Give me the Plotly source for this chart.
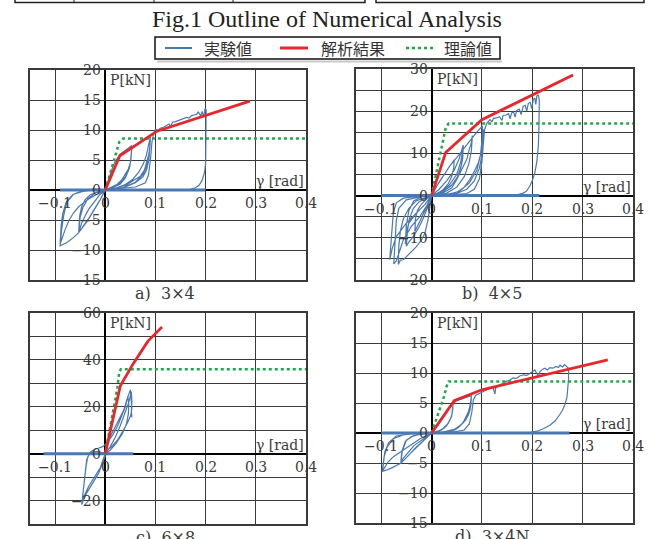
import plotly.graph_objects as go

W, H = 651, 539

# ---------------- data ----------------
x_ticks = [-0.1, 0.0, 0.1, 0.2, 0.3, 0.4]
x_tick_text = ["−0.1", "0", "0.1", "0.2", "0.3", "0.4"]

a_y_ticks = [20, 15, 10, 5, 0, -5, -10, -15]
a_y_text = ["20", "15", "10", "5", "0", "−5", "−10", "−15"]
b_y_ticks = [30, 20, 10, 0, -10, -20]
b_y_text = ["30", "20", "10", "0", "−10", "−20"]
c_y_ticks = [60, 40, 20, 0, -20]
c_y_text = ["60", "40", "20", "0", "−20"]
d_y_ticks = [20, 15, 10, 5, 0, -5, -10, -15]
d_y_text = ["20", "15", "10", "5", "0", "−5", "−10", "−15"]

captions = ["a)  3×4", "b)  4×5", "c)  6×8", "d)  3×4N"]
legend_names = ["実験値", "解析結果", "理論値"]

# experimental hysteresis (gamma [rad], P [kN])
a_exp = [(0, 0), (0.005, 1.3), (0.01, 2.8), (0.015, 3.9), (0.02, 4.8), (0.025, 5.5), (0.03, 6.0), (0.037, 6.4),
         (0.043, 6.8), (0.048, 7.1), (0.053, 7.4), (0.052, 6.0), (0.05, 4.6), (0.046, 3.2), (0.04, 2.0), (0.03, 1.0),
         (0.015, 0.4), (0, 0.1), (-0.005, -0.8), (-0.01, -1.6), (-0.017, -2.6), (-0.023, -3.5), (-0.03, -4.4),
         (-0.037, -5.2), (-0.045, -6.2), (-0.053, -7.1), (-0.052, -5.6), (-0.051, -4.3), (-0.047, -2.8), (-0.04, -1.6),
         (-0.03, -0.8), (-0.015, -0.3), (0, 0), (0.012, 0.4), (0.023, 0.9), (0.033, 1.7), (0.04, 2.6), (0.046, 3.5),
         (0.05, 4.6), (0.052, 5.8), (0.053, 7.1), (0.051, 5.0), (0.048, 3.6), (0.04, 2.2), (0.025, 0.8), (0.01, 0.2),
         (0, 0), (-0.01, -0.7), (-0.023, -2.1), (-0.033, -3.2), (-0.04, -4.3), (-0.047, -5.5), (-0.053, -7.0),
         (-0.05, -4.5), (-0.045, -3.0), (-0.035, -1.5), (-0.02, -0.5), (0, 0), (0.02, 0.3), (0.043, 0.9), (0.06, 1.8),
         (0.07, 2.3), (0.078, 3.3), (0.083, 4.6), (0.087, 6.0), (0.089, 7.3), (0.09, 9.0), (0.089, 7.0), (0.087, 5.0),
         (0.082, 3.3), (0.075, 2.2), (0.06, 1.2), (0.04, 0.5), (0.02, 0.2), (0, 0), (-0.01, -1.6), (-0.023, -3.5),
         (-0.037, -5.3), (-0.053, -7.1), (-0.063, -7.9), (-0.077, -8.8), (-0.09, -9.3), (-0.087, -6.6),
         (-0.083, -4.3), (-0.077, -2.1), (-0.063, -0.7), (-0.043, -0.2), (-0.02, 0.1), (0, 0), (0.02, 0.3),
         (0.04, 0.9), (0.055, 1.8), (0.067, 3.0), (0.076, 4.4), (0.082, 5.8), (0.086, 7.2), (0.09, 8.9), (0.088, 6.2),
         (0.083, 4.0), (0.075, 2.6), (0.06, 1.3), (0.035, 0.4), (0, 0), (-0.012, -0.5), (-0.023, -1.0),
         (-0.033, -1.5), (-0.043, -2.1), (-0.053, -2.8), (-0.063, -3.8), (-0.072, -5.0), (-0.08, -6.6),
         (-0.086, -7.9), (-0.09, -9.0), (-0.088, -6.0), (-0.085, -4.0), (-0.078, -2.0), (-0.065, -0.8),
         (-0.045, -0.1), (-0.02, 0.2), (0, 0), (0.03, 0.2), (0.06, 0.5), (0.08, 1.2), (0.086, 2.5), (0.09, 5.0),
         (0.093, 8.0), (0.097, 9.6), (0.1, 10.1), (0.105, 10.0), (0.11, 10.3), (0.117, 10.5), (0.122, 10.8),
         (0.127, 11.0), (0.13, 10.6), (0.134, 11.3), (0.14, 11.4), (0.147, 11.6), (0.152, 11.7), (0.157, 11.9),
         (0.162, 12.1), (0.167, 12.0), (0.172, 12.4), (0.177, 12.5), (0.182, 12.6), (0.185, 13.0), (0.188, 12.7),
         (0.19, 12.3), (0.193, 13.1), (0.196, 12.2), (0.199, 13.6), (0.201, 13.4), (0.201, 11.0), (0.201, 7.3),
         (0.2, 4.5), (0.198, 3.0), (0.193, 1.6), (0.187, 0.8), (0.178, 0.3), (0.165, 0)]
a_slip_x = [-0.09, 0.2]
a_slip_y = [0, 0]
a_ana_x = [0, 0.029, 0.103, 0.288]
a_ana_y = [0, 5.7, 9.8, 14.8]
a_th_x = [0, 0.028, 0.036, 0.4]
a_th_y = [0, 8.0, 8.6, 8.6]

b_exp = [(0, 0), (0.008, 1.8), (0.016, 3.4), (0.025, 5.0), (0.035, 6.8), (0.045, 8.5), (0.044, 6.5), (0.04, 4.5),
         (0.033, 2.8), (0.022, 1.3), (0.01, 0.4), (0, 0), (-0.005, -1.5), (-0.01, -2.8), (-0.017, -4.5),
         (-0.025, -6.5), (-0.033, -8.5), (-0.032, -5.5), (-0.028, -3.5), (-0.02, -2.0), (-0.01, -0.8), (0, 0),
         (0.015, 1.5), (0.03, 3.5), (0.045, 6.0), (0.055, 8.8), (0.063, 12.0), (0.062, 9.0), (0.058, 6.5),
         (0.05, 4.0), (0.038, 2.2), (0.02, 0.8), (0, 0), (-0.007, -2.5), (-0.015, -5.0), (-0.025, -7.5),
         (-0.035, -9.5), (-0.045, -11.0), (-0.05, -12.0), (-0.048, -8.5), (-0.044, -5.5), (-0.036, -3.0),
         (-0.025, -1.5), (-0.01, -0.5), (0, 0), (0.02, 1.0), (0.035, 2.5), (0.05, 5.0), (0.058, 8.0), (0.063, 11.5),
         (0.06, 7.5), (0.052, 4.5), (0.04, 2.5), (0.02, 0.7), (0, 0), (-0.013, -2.1), (-0.03, -4.1), (-0.045, -6.5),
         (-0.05, -8.5), (-0.052, -11.5), (-0.05, -7.0), (-0.045, -3.5), (-0.035, -1.2), (-0.02, -0.3), (0, 0),
         (0.02, 0.5), (0.04, 1.8), (0.05, 3.8), (0.06, 6.2), (0.07, 8.6), (0.075, 11.0), (0.079, 12.5),
         (0.081, 14.2), (0.079, 10.5), (0.074, 7.5), (0.065, 4.5), (0.05, 2.0), (0.03, 0.6), (0, 0),
         (-0.007, -5.7), (-0.013, -8.9), (-0.02, -10.5), (-0.03, -12.1), (-0.043, -13.7), (-0.056, -15.2),
         (-0.062, -15.3), (-0.066, -16.3), (-0.065, -12.0), (-0.062, -8.5), (-0.056, -5.5), (-0.045, -3.0),
         (-0.03, -1.2), (-0.01, -0.3), (0, 0), (0.03, 0.3), (0.05, 0.8), (0.065, 2.0), (0.076, 3.8), (0.086, 6.0),
         (0.093, 7.8), (0.098, 10.0), (0.101, 11.7), (0.102, 13.5), (0.103, 15.7), (0.102, 13.0), (0.1, 9.5),
         (0.095, 6.5), (0.085, 3.5), (0.07, 1.5), (0.05, 0.5), (0.02, 0.1), (0, 0), (-0.013, -2.1), (-0.03, -4.1),
         (-0.05, -6.5), (-0.07, -9.7), (-0.078, -12.5), (-0.083, -15.2), (-0.079, -8.1), (-0.076, -4.1),
         (-0.07, -1.7), (-0.056, -0.6), (-0.03, -0.2), (0, 0), (0.01, 2.2), (0.023, 4.6), (0.036, 7.0), (0.05, 9.0),
         (0.063, 11.0), (0.076, 12.9), (0.089, 14.9), (0.101, 16.5), (0.1, 13.0), (0.097, 9.5), (0.09, 6.0),
         (0.075, 3.0), (0.055, 1.0), (0.03, 0.2), (0, 0), (-0.01, -2.5), (-0.023, -4.9), (-0.04, -7.3),
         (-0.056, -10.5), (-0.063, -13.0), (-0.07, -15.5), (-0.075, -16.2), (-0.073, -11.0), (-0.07, -6.0),
         (-0.065, -3.0), (-0.05, -1.0), (-0.02, -0.2), (0, 0), (0.04, 0.2), (0.07, 0.5), (0.085, 1.5), (0.095, 4.0),
         (0.1, 8.0), (0.103, 12.0), (0.105, 15.5), (0.11, 17.2), (0.116, 18.0), (0.12, 17.5), (0.123, 18.3),
         (0.129, 18.4), (0.135, 18.7), (0.14, 17.8), (0.142, 19.0), (0.148, 19.1), (0.153, 19.4), (0.156, 18.2),
         (0.159, 19.6), (0.163, 19.8), (0.166, 18.6), (0.169, 20.2), (0.174, 20.5), (0.178, 19.2), (0.182, 21.2),
         (0.186, 21.4), (0.189, 20.0), (0.192, 21.8), (0.196, 22.1), (0.199, 20.6), (0.202, 22.8), (0.205, 23.1),
         (0.207, 21.6), (0.209, 23.6), (0.212, 23.9), (0.214, 22.5), (0.214, 19.7), (0.213, 15.0), (0.212, 11.7),
         (0.209, 8.0), (0.205, 5.4), (0.2, 3.5), (0.195, 2.2), (0.188, 1.0), (0.182, 0.6), (0.17, 0.2)]
b_slip_x = [-0.1, 0.214]
b_slip_y = [0, 0]
b_ana_x = [0, 0.028, 0.1, 0.281]
b_ana_y = [0, 10.2, 18.0, 28.6]
b_th_x = [0, 0.028, 0.034, 0.4]
b_th_y = [0, 16.0, 17.1, 17.1]

c_exp = [(0, 0), (0.005, 3.8), (0.01, 7.4), (0.017, 10.2), (0.027, 14.5), (0.037, 18.7), (0.043, 23.0),
         (0.05, 27.2), (0.051, 24.5), (0.053, 19.4), (0.051, 16.5), (0.045, 13.5), (0.035, 9.5), (0.025, 6.0),
         (0.015, 3.5), (0.005, 1.5), (-0.007, -4.7), (-0.013, -8.2), (-0.023, -11.8), (-0.037, -16.7),
         (-0.047, -21.7), (-0.045, -18.0), (-0.043, -15.3), (-0.04, -8.2), (-0.037, -2.6), (-0.03, 0.6),
         (-0.023, 1.7), (-0.013, 2.4), (-0.005, 3.0), (0.005, 5.0), (0.015, 8.0), (0.025, 12.0), (0.035, 17.0),
         (0.04, 20.0), (0.045, 24.4), (0.047, 21.0), (0.046, 17.0), (0.042, 12.5), (0.034, 8.5), (0.022, 4.5),
         (0.01, 1.5), (0, 0), (-0.01, -6.0), (-0.02, -9.6), (-0.033, -13.9), (-0.043, -18.5), (-0.046, -21.0),
         (-0.044, -16.0), (-0.042, -12.0), (-0.04, -9.0), (-0.038, -5.0), (-0.035, -1.5), (-0.03, 0.5),
         (-0.015, 1.0), (0, 0), (0.01, 3.0), (0.02, 7.0), (0.03, 12.0), (0.04, 17.5), (0.047, 22.0), (0.052, 26.5),
         (0.053, 22.0), (0.052, 18.0), (0.053, 15.5)]
c_slip_x = [-0.123, 0.056]
c_slip_y = [0, 0]
c_ana_x = [0, 0.03, 0.056, 0.085, 0.113]
c_ana_y = [0, 29.0, 38.5, 48.0, 54.0]
c_th_x = [0, 0.024, 0.028, 0.031, 0.4]
c_th_y = [0, 28.0, 35.0, 36.0, 36.0]

d_exp = [(0, 0), (0.013, 1.3), (0.026, 3.0), (0.035, 4.1), (0.04, 4.7), (0.043, 5.2), (0.042, 3.8), (0.039, 2.6),
         (0.033, 1.6), (0.025, 0.8), (0.012, 0.3), (0, 0), (-0.01, -0.8), (-0.022, -1.7), (-0.032, -2.5),
         (-0.042, -3.4), (-0.052, -4.3), (-0.061, -5.05), (-0.06, -3.8), (-0.058, -2.8), (-0.052, -1.4),
         (-0.04, -0.6), (-0.02, -0.1), (0, 0), (0.02, 0.5), (0.033, 1.6), (0.038, 2.4), (0.041, 3.3), (0.043, 5.0),
         (0.04, 2.8), (0.03, 1.2), (0.015, 0.3), (0, 0), (-0.022, -1.4), (-0.035, -2.1), (-0.042, -2.8),
         (-0.05, -3.6), (-0.057, -4.3), (-0.061, -5.0), (-0.058, -3.0), (-0.05, -1.2), (-0.035, -0.4), (0, 0),
         (0.036, 0.2), (0.048, 0.6), (0.056, 1.1), (0.063, 1.8), (0.069, 2.7), (0.073, 3.5), (0.076, 4.4),
         (0.078, 5.2), (0.079, 6.05), (0.078, 4.6), (0.075, 3.4), (0.068, 2.2), (0.058, 1.3), (0.045, 0.6),
         (0.025, 0.2), (0, 0), (-0.022, -1.7), (-0.042, -3.4), (-0.061, -5.05), (-0.071, -5.5), (-0.081, -5.9),
         (-0.09, -6.2), (-0.098, -6.4), (-0.094, -3.9), (-0.088, -2.3), (-0.075, -0.9), (-0.055, -0.3),
         (-0.03, 0), (0, 0), (0.013, 1.3), (0.026, 3.0), (0.04, 4.7), (0.05, 5.4), (0.063, 5.8), (0.072, 6.0),
         (0.079, 6.2), (0.077, 4.0), (0.072, 2.8), (0.062, 1.6), (0.045, 0.6), (0.02, 0.1), (0, 0),
         (-0.022, -0.9), (-0.035, -1.6), (-0.048, -2.3), (-0.062, -3.1), (-0.075, -3.9), (-0.087, -4.9),
         (-0.097, -6.3), (-0.093, -3.2), (-0.085, -1.6), (-0.07, -0.5), (-0.04, -0.1), (0, 0), (0.04, 0.1),
         (0.065, 0.5), (0.075, 1.5), (0.08, 3.5), (0.083, 5.5), (0.088, 6.3), (0.096, 6.6), (0.104, 6.9),
         (0.112, 7.2), (0.118, 7.5), (0.122, 7.7), (0.124, 7.0), (0.126, 6.5), (0.127, 7.4), (0.133, 7.9),
         (0.142, 8.3), (0.148, 8.6), (0.155, 8.8), (0.162, 9.2), (0.169, 9.1), (0.175, 9.5), (0.182, 9.7),
         (0.189, 9.6), (0.195, 9.9), (0.2, 10.2), (0.205, 10.5), (0.209, 9.9), (0.212, 9.4), (0.215, 10.2),
         (0.22, 10.6), (0.225, 10.8), (0.23, 10.5), (0.235, 10.9), (0.241, 10.8), (0.247, 11.1), (0.252, 10.9),
         (0.255, 11.3), (0.26, 11.0), (0.264, 11.4), (0.268, 11.1), (0.272, 10.8), (0.272, 9.0), (0.271, 7.5),
         (0.269, 6.0), (0.265, 4.8), (0.26, 3.8), (0.254, 3.0), (0.245, 2.0), (0.235, 1.3), (0.222, 0.7),
         (0.21, 0.3), (0.196, 0.1)]
d_slip_x = [-0.1, 0.274]
d_slip_y = [0, 0]
d_ana_x = [0, 0.045, 0.1, 0.35]
d_ana_y = [0, 5.4, 7.2, 12.2]
d_th_x = [0, 0.018, 0.0245, 0.03, 0.034, 0.4]
d_th_y = [0, 4.4, 6.0, 7.8, 8.6, 8.6]

# ---------------- styling / layout ----------------
BLUE = "#4a78b0"
RED = "#e8262c"
GREEN = "#1fa84a"
GRID = "#3a3a3a"
TXT = "#3a3a3a"
TICK_FONT = dict(family="DejaVu Serif", size=14, color=TXT)


def px_x(px):
    return px / W


def px_y(py):
    return 1 - py / H


panels = [
    dict(box=(30, 306, 70, 280), yr=(-15, 20), dy=5, exp=a_exp, slip=(a_slip_x, a_slip_y),
         ana=(a_ana_x, a_ana_y), th=(a_th_x, a_th_y), yt=(a_y_ticks, a_y_text)),
    dict(box=(356, 633, 69, 280), yr=(-20, 30), dy=5, exp=b_exp, slip=(b_slip_x, b_slip_y),
         ana=(b_ana_x, b_ana_y), th=(b_th_x, b_th_y), yt=(b_y_ticks, b_y_text)),
    dict(box=(30, 306, 313, 524), yr=(-30, 60), dy=10, exp=c_exp, slip=(c_slip_x, c_slip_y),
         ana=(c_ana_x, c_ana_y), th=(c_th_x, c_th_y), yt=(c_y_ticks, c_y_text)),
    dict(box=(356, 633, 313, 523), yr=(-15, 20), dy=5, exp=d_exp, slip=(d_slip_x, d_slip_y),
         ana=(d_ana_x, d_ana_y), th=(d_th_x, d_th_y), yt=(d_y_ticks, d_y_text)),
]

fig = go.Figure()
annotations = []
layout_axes = {}

for i, p in enumerate(panels, start=1):
    xa = "x" if i == 1 else f"x{i}"
    ya = "y" if i == 1 else f"y{i}"
    x0, x1, y0, y1 = p["box"]
    ex = [pt[0] for pt in p["exp"]]
    ey = [pt[1] for pt in p["exp"]]
    fig.add_trace(go.Scatter(x=ex, y=ey, mode="lines", line=dict(color=BLUE, width=1.2),
                             xaxis=xa, yaxis=ya, showlegend=False, hoverinfo="skip"))
    fig.add_trace(go.Scatter(x=p["slip"][0], y=p["slip"][1], mode="lines", line=dict(color=BLUE, width=3),
                             xaxis=xa, yaxis=ya, showlegend=False, hoverinfo="skip"))
    fig.add_trace(go.Scatter(x=p["th"][0], y=p["th"][1], mode="lines",
                             line=dict(color=GREEN, width=2.5, dash="dot"),
                             xaxis=xa, yaxis=ya, showlegend=False, hoverinfo="skip"))
    fig.add_trace(go.Scatter(x=p["ana"][0], y=p["ana"][1], mode="lines", line=dict(color=RED, width=2.8),
                             xaxis=xa, yaxis=ya, showlegend=False, hoverinfo="skip"))

    xkey = "xaxis" if i == 1 else f"xaxis{i}"
    ykey = "yaxis" if i == 1 else f"yaxis{i}"
    layout_axes[xkey] = dict(domain=[px_x(x0), px_x(x1)], range=[-0.15, 0.4], anchor=ya,
                             tickvals=x_ticks, showticklabels=False, ticks="",
                             showgrid=True, gridcolor=GRID, gridwidth=1,
                             zeroline=True, zerolinecolor="#000000", zerolinewidth=2,
                             showline=True, mirror=True, linecolor=GRID, linewidth=1.5)
    ymin, ymax = p["yr"]
    layout_axes[ykey] = dict(domain=[px_y(y1), px_y(y0)], range=[ymin, ymax], anchor=xa,
                             dtick=p["dy"], tick0=0, showticklabels=False, ticks="",
                             showgrid=True, gridcolor=GRID, gridwidth=1,
                             zeroline=True, zerolinecolor="#000000", zerolinewidth=2,
                             showline=True, mirror=True, linecolor=GRID, linewidth=1.5)

    # tick labels placed at the axis crossing
    for v, t in zip(x_ticks, x_tick_text):
        annotations.append(dict(x=v, y=0, xref=xa, yref=ya, text=t, showarrow=False,
                                xanchor="center", yanchor="top", yshift=-3, font=TICK_FONT))
    for v, t in zip(*p["yt"]):
        annotations.append(dict(x=0, y=v, xref=xa, yref=ya, text=t, showarrow=False,
                                xanchor="right", yanchor="middle", xshift=-2, font=TICK_FONT))
    annotations.append(dict(x=0.4, y=0, xref=xa, yref=ya, text="γ [rad]", showarrow=False,
                            xanchor="right", yanchor="bottom", yshift=-1, font=TICK_FONT))
    annotations.append(dict(x=0, y=ymax, xref=xa, yref=ya, text="P[kN]", showarrow=False,
                            xanchor="left", yanchor="top", xshift=3, yshift=0, font=TICK_FONT))
    annotations.append(dict(x=px_x((x0 + x1) / 2 - 3), y=px_y(y1 + 13), xref="paper", yref="paper",
                            text=captions[i - 1], showarrow=False, xanchor="center", yanchor="middle",
                            font=dict(family="DejaVu Serif", size=16, color=TXT)))

# title
annotations.append(dict(x=px_x(327), y=px_y(19), xref="paper", yref="paper",
                        text="Fig.1 Outline of Numerical Analysis", showarrow=False,
                        xanchor="center", yanchor="middle",
                        font=dict(family="Liberation Serif", size=24, color="#222222")))

# legend (manual box)
shapes = [
    dict(type="rect", xref="paper", yref="paper", x0=px_x(155), x1=px_x(500), y0=px_y(59), y1=px_y(37),
         line=dict(color="#111111", width=1.5), fillcolor="white", layer="below"),
    dict(type="line", xref="paper", yref="paper", x0=px_x(157), x1=px_x(502), y0=px_y(61.5), y1=px_y(61.5),
         line=dict(color="#c8c8c8", width=2)),
    dict(type="line", xref="paper", yref="paper", x0=px_x(165), x1=px_x(192), y0=px_y(48), y1=px_y(48),
         line=dict(color=BLUE, width=2)),
    dict(type="line", xref="paper", yref="paper", x0=px_x(280), x1=px_x(308), y0=px_y(48), y1=px_y(48),
         line=dict(color=RED, width=3)),
    dict(type="line", xref="paper", yref="paper", x0=px_x(406), x1=px_x(433), y0=px_y(48), y1=px_y(48),
         line=dict(color=GREEN, width=2.5, dash="dot")),
]
for name, xpos in zip(legend_names, [202, 319, 442]):
    annotations.append(dict(x=px_x(xpos), y=px_y(48), xref="paper", yref="paper", text=name,
                            showarrow=False, xanchor="left", yanchor="middle",
                            font=dict(family="Noto Sans CJK JP", size=16, color="#333333")))

# remnants of the table frame above the figure
for xa_, xb_ in [(15, 365), (376, 644)]:
    shapes.append(dict(type="rect", xref="paper", yref="paper", x0=px_x(xa_), x1=px_x(xb_),
                       y0=px_y(2.5), y1=px_y(-10), line=dict(color="#222222", width=1.5)))
for xv in [74, 154, 233]:
    shapes.append(dict(type="line", xref="paper", yref="paper", x0=px_x(xv), x1=px_x(xv),
                       y0=px_y(2.5), y1=px_y(-10), line=dict(color="#222222", width=1)))

fig.update_layout(width=W, height=H, margin=dict(l=0, r=0, t=0, b=0),
                  paper_bgcolor="white", plot_bgcolor="white",
                  annotations=annotations, shapes=shapes, **layout_axes)

fig.write_html("out.html", config={"displayModeBar": False},
               post_script="document.body.style.margin='0px';document.body.style.overflow='hidden';")
